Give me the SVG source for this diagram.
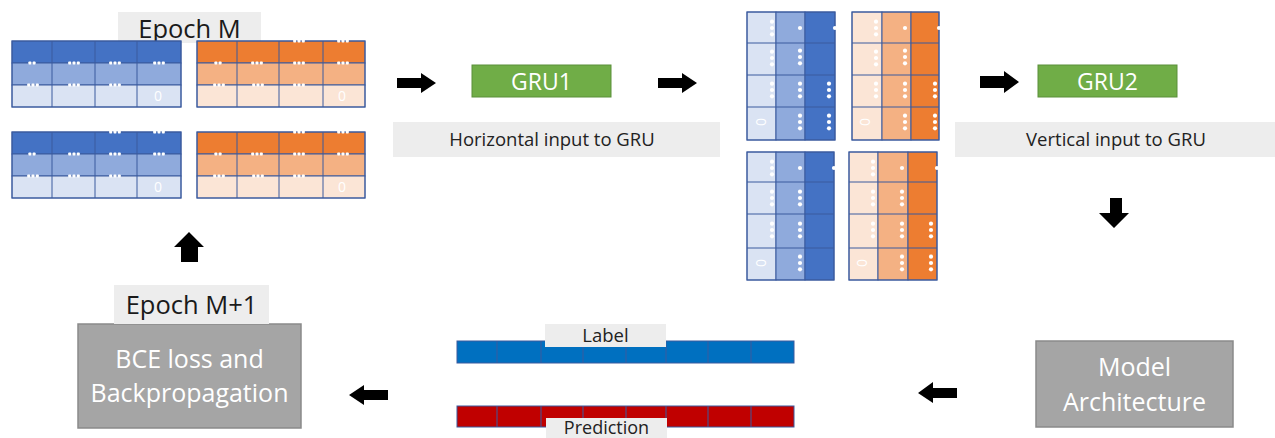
<svg xmlns="http://www.w3.org/2000/svg" width="1275" height="438" viewBox="0 0 1275 438">
<style>
.t{font-family:"Open Sans",Lato,sans-serif}
.lbl{fill:#EDEDED}
.cell{stroke:#3A5A9E;stroke-width:1}
.b1{fill:#4472C4}.b2{fill:#8FAADC}.b3{fill:#DAE3F3}
.o1{fill:#ED7D31}.o2{fill:#F4B183}.o3{fill:#FBE5D6}
.gru{fill:#70AD47;stroke:#5B8F3A;stroke-width:1}
.grey{fill:#A5A5A5;stroke:#8A8A8A;stroke-width:1.5}
.arr{fill:#000}
.dot{fill:#fff}
</style>
<defs>
<g id="hd"><rect x="-5.8" y="-1.5" width="3" height="3" rx="0.8" class="dot"/><rect x="-1.5" y="-1.5" width="3" height="3" rx="0.8" class="dot"/><rect x="2.8" y="-1.5" width="3" height="3" rx="0.8" class="dot"/></g>
<g id="hd2"><rect x="-3.6" y="-1.5" width="3" height="3" rx="0.8" class="dot"/><rect x="0.6" y="-1.5" width="3" height="3" rx="0.8" class="dot"/></g>
<g id="vd"><circle cx="0" cy="-6.3" r="2.1" class="dot"/><circle cx="0" cy="0" r="2.1" class="dot"/><circle cx="0" cy="6.3" r="2.1" class="dot"/></g>
<circle id="sd" cx="0" cy="0" r="2.1" class="dot"/>
</defs>

<!-- Epoch M label -->
<g id="epochM">
<rect x="118" y="12" width="143" height="31" class="lbl"/>
<text x="189.5" y="38" font-size="25.5" text-anchor="middle" class="t" fill="#1a1a1a">Epoch M</text>
</g>

<!-- Horizontal tables -->
<g id="htable-blue-1">
<rect x="12" y="41" width="169" height="22" class="b1 cell"/>
<rect x="12" y="63" width="169" height="22" class="b2 cell"/>
<rect x="12" y="85" width="169" height="22" class="b3 cell"/>
<path d="M52,41V107M95,41V107M137,41V107" class="cell" fill="none"/>
<rect x="12" y="41" width="169" height="66" fill="none" class="cell"/>
<use href="#hd2" x="32" y="63"/><use href="#hd" x="74" y="63"/><use href="#hd" x="115" y="63"/><use href="#hd" x="159" y="63"/>
<use href="#hd" x="33" y="85"/><use href="#hd" x="74" y="85"/><use href="#hd" x="115" y="85"/>
<text x="158" y="101" font-size="14" text-anchor="middle" class="t" fill="#fff">0</text>
</g>
<g id="htable-orange-1">
<rect x="197" y="41" width="168" height="22" class="o1 cell"/>
<rect x="197" y="63" width="168" height="22" class="o2 cell"/>
<rect x="197" y="85" width="168" height="22" class="o3 cell"/>
<path d="M237,41V107M279,41V107M323,41V107" class="cell" fill="none"/>
<rect x="197" y="41" width="168" height="66" fill="none" class="cell"/>
<use href="#hd" x="299" y="41"/><use href="#hd" x="343" y="41"/>
<use href="#hd2" x="218" y="63"/><use href="#hd" x="257" y="63"/><use href="#hd" x="299" y="63"/><use href="#hd" x="343" y="63"/>
<use href="#hd" x="219" y="85"/><use href="#hd" x="258" y="85"/><use href="#hd" x="299" y="85"/>
<text x="342" y="101" font-size="14" text-anchor="middle" class="t" fill="#fff">0</text>
</g>
<g id="htable-blue-2">
<rect x="12" y="132" width="169" height="22" class="b1 cell"/>
<rect x="12" y="154" width="169" height="22" class="b2 cell"/>
<rect x="12" y="176" width="169" height="22" class="b3 cell"/>
<path d="M52,132V198M95,132V198M137,132V198" class="cell" fill="none"/>
<rect x="12" y="132" width="169" height="66" fill="none" class="cell"/>
<use href="#hd" x="115" y="132"/><use href="#hd" x="159" y="132"/>
<use href="#hd2" x="32" y="154"/><use href="#hd" x="74" y="154"/><use href="#hd" x="115" y="154"/><use href="#hd" x="159" y="154"/>
<use href="#hd" x="33" y="176"/><use href="#hd" x="74" y="176"/><use href="#hd" x="115" y="176"/>
<text x="158" y="192" font-size="14" text-anchor="middle" class="t" fill="#fff">0</text>
</g>
<g id="htable-orange-2">
<rect x="197" y="132" width="168" height="22" class="o1 cell"/>
<rect x="197" y="154" width="168" height="22" class="o2 cell"/>
<rect x="197" y="176" width="168" height="22" class="o3 cell"/>
<path d="M237,132V198M279,132V198M323,132V198" class="cell" fill="none"/>
<rect x="197" y="132" width="168" height="66" fill="none" class="cell"/>
<use href="#hd" x="299" y="132"/><use href="#hd" x="343" y="132"/>
<use href="#hd2" x="218" y="154"/><use href="#hd" x="257" y="154"/><use href="#hd" x="299" y="154"/><use href="#hd" x="343" y="154"/>
<use href="#hd" x="219" y="176"/><use href="#hd" x="258" y="176"/><use href="#hd" x="299" y="176"/>
<text x="342" y="192" font-size="14" text-anchor="middle" class="t" fill="#fff">0</text>
</g>

<!-- GRU1 -->
<g id="gru1">
<rect x="472" y="65" width="139" height="32" class="gru"/>
<text x="541.5" y="89.5" font-size="23" text-anchor="middle" class="t" fill="#fff">GRU1</text>
</g>
<g id="horiz-label">
<rect x="393" y="122" width="327" height="35" class="lbl"/>
<text x="552" y="146" font-size="18.5" text-anchor="middle" class="t" fill="#222">Horizontal input to GRU</text>
</g>

<!-- Vertical tables -->
<g id="vtable-blue-1">
<rect x="747" y="12" width="29" height="128" class="b3 cell"/>
<rect x="776" y="12" width="29" height="128" class="b2 cell"/>
<rect x="805" y="12" width="30" height="128" class="b1 cell"/>
<path d="M747,43H835M747,75H835M747,107H835" class="cell" fill="none"/>
<rect x="747" y="12" width="88" height="128" fill="none" class="cell"/>
<use href="#vd" x="772" y="28"/><use href="#vd" x="772" y="58"/><use href="#vd" x="772" y="90"/>
<use href="#sd" x="800" y="28"/><use href="#vd" x="800" y="57"/><use href="#vd" x="800" y="90"/><use href="#vd" x="800" y="122"/>
<use href="#sd" x="835" y="28"/><use href="#vd" x="829" y="90"/><use href="#vd" x="829" y="122"/>
<text x="0" y="0" transform="translate(756,122) rotate(90)" font-size="14" text-anchor="middle" class="t" fill="#fff">0</text>
</g>
<g id="vtable-orange-1">
<rect x="852" y="12" width="30" height="128" class="o3 cell"/>
<rect x="882" y="12" width="29" height="128" class="o2 cell"/>
<rect x="911" y="12" width="28" height="128" class="o1 cell"/>
<path d="M852,43H939M852,75H939M852,107H939" class="cell" fill="none"/>
<rect x="852" y="12" width="87" height="128" fill="none" class="cell"/>
<use href="#vd" x="876" y="28"/><use href="#vd" x="876" y="58"/><use href="#vd" x="876" y="90"/>
<use href="#sd" x="905" y="28"/><use href="#vd" x="905" y="57"/><use href="#vd" x="905" y="90"/><use href="#vd" x="905" y="122"/>
<use href="#sd" x="939" y="28"/><use href="#vd" x="935" y="90"/><use href="#vd" x="935" y="122"/>
<text x="0" y="0" transform="translate(860,122) rotate(90)" font-size="14" text-anchor="middle" class="t" fill="#fff">0</text>
</g>
<g id="vtable-blue-2">
<rect x="747" y="152" width="29" height="128" class="b3 cell"/>
<rect x="776" y="152" width="29" height="128" class="b2 cell"/>
<rect x="805" y="152" width="29" height="128" class="b1 cell"/>
<path d="M747,182H834M747,214H834M747,248H834" class="cell" fill="none"/>
<rect x="747" y="152" width="87" height="128" fill="none" class="cell"/>
<use href="#vd" x="772" y="168"/><use href="#vd" x="772" y="198"/><use href="#vd" x="772" y="230"/>
<use href="#sd" x="800" y="168"/><use href="#vd" x="800" y="198"/><use href="#vd" x="800" y="230"/><use href="#vd" x="800" y="263"/>
<use href="#sd" x="834" y="168"/>
<text x="0" y="0" transform="translate(756,263) rotate(90)" font-size="14" text-anchor="middle" class="t" fill="#fff">0</text>
</g>
<g id="vtable-orange-2">
<rect x="849" y="152" width="29" height="128" class="o3 cell"/>
<rect x="878" y="152" width="30" height="128" class="o2 cell"/>
<rect x="908" y="152" width="29" height="128" class="o1 cell"/>
<path d="M849,182H937M849,214H937M849,248H937" class="cell" fill="none"/>
<rect x="849" y="152" width="88" height="128" fill="none" class="cell"/>
<use href="#vd" x="873" y="168"/><use href="#vd" x="873" y="198"/><use href="#vd" x="873" y="230"/>
<use href="#sd" x="902" y="168"/><use href="#vd" x="902" y="198"/><use href="#vd" x="902" y="230"/><use href="#vd" x="902" y="263"/>
<use href="#sd" x="937" y="168"/><use href="#vd" x="931" y="230"/><use href="#vd" x="931" y="263"/>
<text x="0" y="0" transform="translate(857,263) rotate(90)" font-size="14" text-anchor="middle" class="t" fill="#fff">0</text>
</g>

<!-- GRU2 -->
<g id="gru2">
<rect x="1038" y="65" width="139" height="32" class="gru"/>
<text x="1107.5" y="89.5" font-size="23" text-anchor="middle" class="t" fill="#fff">GRU2</text>
</g>
<g id="vert-label">
<rect x="955" y="122" width="320" height="35" class="lbl"/>
<text x="1116" y="146" font-size="18.5" text-anchor="middle" class="t" fill="#222">Vertical input to GRU</text>
</g>

<!-- Model Architecture -->
<g id="model">
<rect x="1036" y="341" width="197" height="86" class="grey"/>
<text x="1134.5" y="376" font-size="25" text-anchor="middle" class="t" fill="#fff">Model</text>
<text x="1134.5" y="411" font-size="25" text-anchor="middle" class="t" fill="#fff">Architecture</text>
</g>

<!-- Label / Prediction bars -->
<g id="label-bar">
<rect x="457" y="341" width="337" height="22" fill="#0070C0" class="cell"/>
<path d="M497,341V363M541,341V363M583,341V363M626,341V363M666,341V363M708,341V363M751,341V363" class="cell" fill="none"/>
<rect x="545" y="324" width="121" height="23" class="lbl"/>
<text x="605.5" y="342" font-size="18.5" text-anchor="middle" class="t" fill="#222">Label</text>
</g>
<g id="prediction-bar">
<rect x="457" y="406" width="337" height="21" fill="#C00000" class="cell"/>
<path d="M497,406V427M541,406V427M583,406V427M626,406V427M666,406V427M708,406V427M751,406V427" class="cell" fill="none"/>
<rect x="546" y="418" width="121" height="20" class="lbl"/>
<text x="606.5" y="433.5" font-size="18" text-anchor="middle" class="t" fill="#222">Prediction</text>
</g>

<!-- BCE loss -->
<g id="bce">
<rect x="78" y="324" width="223" height="104" class="grey"/>
<text x="189.5" y="368" font-size="25" text-anchor="middle" class="t" fill="#fff">BCE loss and</text>
<text x="189.5" y="402" font-size="25" text-anchor="middle" class="t" fill="#fff">Backpropagation</text>
</g>
<g id="epochM1">
<rect x="114" y="285" width="155" height="39" class="lbl"/>
<text x="191.5" y="314" font-size="25.5" text-anchor="middle" class="t" fill="#1a1a1a">Epoch M+1</text>
</g>

<!-- Connectors -->
<g id="connectors" class="arr">
<path d="M397,78H421V73L436,83L421,93V88H397Z"/>
<path d="M658,78H682V73L697,83L682,93V88H658Z"/>
<path d="M980,76H1004V71L1019,82L1004,93V88H980Z"/>
<path d="M1110,198H1122V213H1129L1114,228L1099,213H1110Z"/>
<path d="M181,262H198V247H204L189,232L174,247H181Z"/>
<path d="M957,388H933V382L918,393L933,403V398H957Z"/>
<path d="M388,390H364V385L349,395L364,405V400H388Z"/>
</g>
</svg>
